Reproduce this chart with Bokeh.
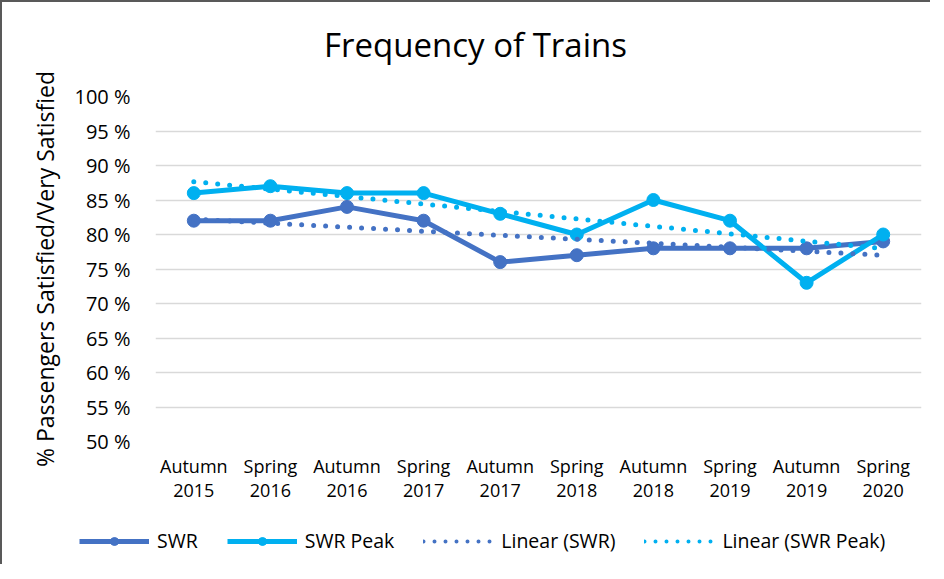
import numpy as np
from bokeh.plotting import figure
from bokeh.layouts import column
from bokeh.models import Legend, LegendItem, FixedTicker, Range1d, Label
from bokeh.embed import file_html
from bokeh.resources import INLINE

title_text = "Frequency of Trains"
periods = ["Autumn\n2015", "Spring\n2016", "Autumn\n2016", "Spring\n2017", "Autumn\n2017",
           "Spring\n2018", "Autumn\n2018", "Spring\n2019", "Autumn\n2019", "Spring\n2020"]
swr = [82, 82, 84, 82, 76, 77, 78, 78, 78, 79]
swr_peak = [86, 87, 86, 86, 83, 80, 85, 82, 73, 80]
y_ticks = [50, 55, 60, 65, 70, 75, 80, 85, 90, 95, 100]

C_SWR = "#4472C4"
C_PEAK = "#00B0F0"
FONT = "Open Sans"

x = list(range(len(periods)))
trend_swr = np.polyval(np.polyfit(x, swr, 1), x)
trend_peak = np.polyval(np.polyfit(x, swr_peak, 1), x)


def strip(height):
    f = figure(width=928, height=height, output_backend="svg", toolbar_location=None,
               x_range=Range1d(0, 1), y_range=Range1d(0, 1), x_axis_type=None, y_axis_type=None,
               min_border_left=0, min_border_right=0, min_border_top=0, min_border_bottom=0)
    f.outline_line_color = None
    f.grid.visible = False
    if "frame_align" in f.properties():
        f.frame_align = False
    return f


# title strip
ts = strip(64)
ts.add_layout(Label(x=473, y=22, x_units="screen", y_units="screen", text=title_text,
                    text_font=FONT, text_font_size="33px", text_color="#000000",
                    text_align="center", text_baseline="alphabetic"))

# main chart
p = figure(width=928, height=438, output_backend="svg", toolbar_location=None,
           x_range=Range1d(-0.5, len(periods) - 0.5), y_range=Range1d(50, 100),
           min_border_left=153, min_border_right=9, min_border_top=30, min_border_bottom=62)
if "frame_align" in p.properties():
    p.frame_align = False
p.outline_line_color = None
p.background_fill_color = "white"
p.border_fill_color = "white"
p.title.text = ""

p.xaxis.ticker = FixedTicker(ticks=x)
p.xaxis.major_label_overrides = {i: lab for i, lab in enumerate(periods)}
p.xaxis.major_label_text_font = FONT
p.xaxis.major_label_text_font_size = "18px"
p.xaxis.major_label_text_line_height = 1.0
p.xaxis.major_label_text_color = "#000000"
p.xaxis.major_label_standoff = 6
p.xaxis.axis_line_color = None
p.xaxis.major_tick_line_color = None
p.xaxis.minor_tick_line_color = None

p.yaxis.ticker = FixedTicker(ticks=y_ticks)
p.yaxis.major_label_overrides = {v: f"{v} %" for v in y_ticks}
p.yaxis.major_label_text_font = FONT
p.yaxis.major_label_text_font_size = "20px"
p.yaxis.major_label_text_color = "#000000"
p.yaxis.major_label_standoff = 19
p.yaxis.axis_line_color = None
p.yaxis.major_tick_line_color = None
p.yaxis.minor_tick_line_color = None
p.yaxis.axis_label = "% Passengers Satisfied/Very Satisfied"
p.yaxis.axis_label_text_font = FONT
p.yaxis.axis_label_text_font_size = "23px"
p.yaxis.axis_label_text_font_style = "normal"
p.yaxis.axis_label_text_color = "#000000"
p.yaxis.axis_label_standoff = 10

p.xgrid.grid_line_color = None
p.ygrid.grid_line_color = "#D9D9D9"
p.ygrid.grid_line_width = 1.5

p.line(x, swr, line_color=C_SWR, line_width=5, line_join="round")
p.scatter(x, swr, size=13, fill_color=C_SWR, line_color=C_SWR)
p.line(x, swr_peak, line_color=C_PEAK, line_width=5, line_join="round")
p.scatter(x, swr_peak, size=13, fill_color=C_PEAK, line_color=C_PEAK)
p.line(x, trend_swr, line_color=C_SWR, line_width=5, line_dash="0 12", line_cap="round")
p.line(x, trend_peak, line_color=C_PEAK, line_width=5, line_dash="0 12", line_cap="round")

# legend strip (its series lie outside its own visible ranges)
lg = strip(60)
g1 = lg.line(x, swr, line_color=C_SWR, line_width=5)
k1 = lg.scatter(x, swr, size=9, fill_color=C_SWR, line_color=C_SWR)
g2 = lg.line(x, swr_peak, line_color=C_PEAK, line_width=5)
k2 = lg.scatter(x, swr_peak, size=9, fill_color=C_PEAK, line_color=C_PEAK)
g3 = lg.line(x, trend_swr, line_color=C_SWR, line_width=4, line_dash="0 11", line_cap="round")
g4 = lg.line(x, trend_peak, line_color=C_PEAK, line_width=4, line_dash="0 11", line_cap="round")

legend = Legend(items=[
    LegendItem(label="SWR", renderers=[g1, k1]),
    LegendItem(label="SWR Peak", renderers=[g2, k2]),
    LegendItem(label="Linear (SWR)", renderers=[g3]),
    LegendItem(label="Linear (SWR Peak)", renderers=[g4]),
], orientation="horizontal", location=(77, 10))
legend.label_text_font = FONT
legend.label_text_font_size = "19.5px"
legend.label_text_color = "#000000"
legend.glyph_width = 70
legend.glyph_height = 20
legend.label_standoff = 8
legend.spacing = 29
legend.padding = 0
legend.margin = 0
legend.border_line_color = None
legend.background_fill_alpha = 0
lg.add_layout(legend)

layout = column(ts, p, lg, spacing=0)
layout.styles = {"border-left": "2px solid #595959", "border-top": "2px solid #595959"}

open("out.html", "w").write(file_html(layout, INLINE))
